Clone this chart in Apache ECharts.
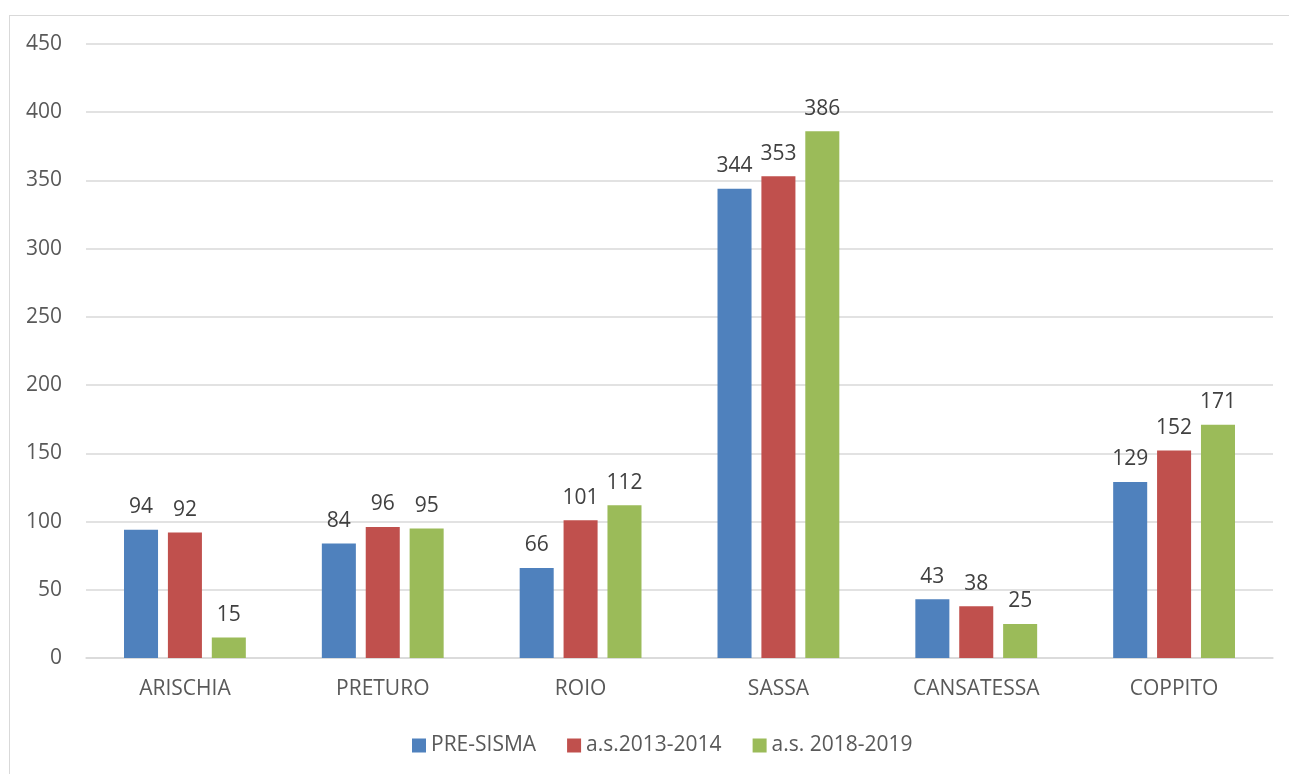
<!DOCTYPE html>
<html><head><meta charset="utf-8">
<script src="https://cdn.jsdelivr.net/npm/echarts@6/dist/echarts.min.js"></script>
<style>html,body{margin:0;padding:0;background:#fff}#c{width:1289px;height:774px}
#frame{position:absolute;left:9px;top:15px;width:1290px;height:770px;border:1.5px solid #d9d9d9;box-sizing:border-box;pointer-events:none}</style>
</head><body><div id="c"></div><div id="frame"></div>
<script>
const categories = ['ARISCHIA','PRETURO','ROIO','SASSA','CANSATESSA','COPPITO'];
const preSisma = [94,84,66,344,43,129];
const as2013 = [92,96,101,353,38,152];
const as2018 = [15,95,112,386,25,171];
const seriesNames = ['PRE-SISMA','a.s.2013-2014','a.s. 2018-2019'];
const colors = ['#4F81BD','#C0504D','#9BBB59'];
const font = '"Open Sans", sans-serif';
const chart = echarts.init(document.getElementById('c'));
const mk = (name, data, color) => ({
  name, type:'bar', data, barWidth:'17.2%', barGap:'29%',
  itemStyle:{color},
  label:{show:true, position:'top', distance:12, color:'#404040', fontSize:21, fontFamily:font}
});
chart.setOption({
  animation:false,
  grid:{left:86, right:16, top:44, bottom:116, containLabel:false},
  legend:{top:730, left:407, itemWidth:14, itemHeight:14, itemGap:31,
    icon:'rect', textStyle:{color:'#595959', fontSize:21, fontFamily:font},
    data:seriesNames},
  xAxis:{type:'category', data:categories,
    axisLine:{lineStyle:{color:'#d9d9d9', width:1.5}}, axisTick:{show:false},
    axisLabel:{color:'#595959', fontSize:21, fontFamily:font, margin:21}},
  yAxis:{type:'value', min:0, max:450, interval:50,
    axisLine:{show:false}, axisTick:{show:false},
    splitLine:{lineStyle:{color:'#d9d9d9', width:1.5}},
    axisLabel:{color:'#595959', fontSize:21, fontFamily:font, margin:24, align:'right'}},
  series:[mk(seriesNames[0], preSisma, colors[0]), mk(seriesNames[1], as2013, colors[1]), mk(seriesNames[2], as2018, colors[2])]
});
</script></body></html>
